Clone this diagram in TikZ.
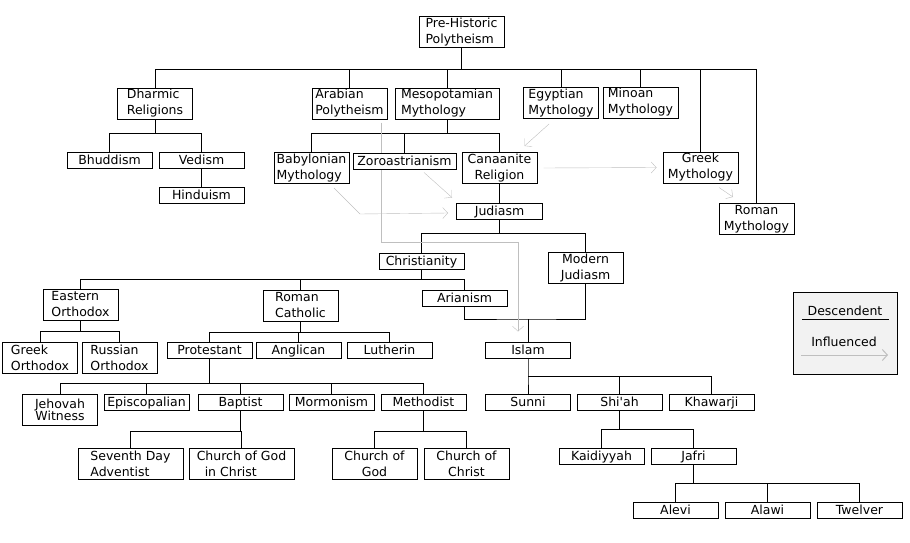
\documentclass[tikz,border=0pt]{standalone}
\usepackage{fontspec}
\newfontfamily\treefont{DejaVu Sans}
\usepackage{tikz}
\usetikzlibrary{arrows.meta}
\usetikzlibrary{backgrounds}

\begin{document}
\begin{tikzpicture}[
  x=1pt, y=-1pt, line width=1pt,
  every node/.style={draw,fill=white,inner sep=0pt,minimum width=85pt,minimum height=16pt,
    text height=11pt,text depth=2.5pt,
    align=center,font=\treefont\fontsize{12.5}{16}\selectfont},
  tall/.style={minimum width=75pt,minimum height=31pt,text height=,text depth=},
  infl/.style={gray!50,-{Straight Barb[length=5pt,width=11pt]}}
]
  \useasboundingbox (0,0) rectangle (910,543);

  % top level
  \node[tall,minimum width=85pt,align=left] (pre) at (461.5,32.5) {Pre-Historic\\Polytheism};
  \node[tall,align=left] (dharmic) at (155,103.5) {Dharmic\\Religions};
  \node[tall,align=left] (arab)    at (349.5,103.5) {Arabian\\Polytheism};
  \node[tall,minimum width=104pt,align=left] (meso) at (447,103.5) {Mesopotamian\\Mythology};
  \node[tall,align=left] (egypt)   at (561,103) {Egyptian\\Mythology};
  \node[tall,align=left] (minoan)  at (640.5,102.5) {Minoan\\Mythology};
  \node[tall] (greekm) at (700.5,167.5) {Greek\\Mythology};
  \node[tall] (romanm) at (756.5,219) {Roman\\Mythology};

  \node (bud) at (109.5,160.5) {Bhuddism};
  \node (ved) at (201.5,160.5) {Vedism};
  \node (hin) at (201.5,195) {Hinduism};

  \node[tall,align=left] (baby) at (311.5,168) {Babylonian\\Mythology};
  \node[minimum width=103pt] (zoro) at (404.5,161) {Zoroastrianism};
  \node[tall] (cana) at (499.5,168) {Canaanite\\Religion};
  \node[minimum width=86pt] (jud) at (499.5,211) {Judiasm};

  \node (christ) at (421.5,261) {Christianity};
  \node[tall] (modjud) at (585.5,267.5) {Modern\\Judiasm};
  \node (arian) at (464.5,298.5) {Arianism};
  \node (islam) at (528,350) {Islam};

  % christian branches
  \node[tall,align=left] (eorth) at (80.5,304.5) {Eastern\\Orthodox};
  \node[tall,align=left] (rcath) at (300.5,305.5) {Roman\\Catholic};
  \node[tall,align=left] (gorth) at (40,357.5) {Greek\\Orthodox};
  \node[tall,align=left] (rorth) at (119.5,357.5) {Russian\\Orthodox};
  \node (prot) at (209.5,350) {Protestant};
  \node (angl) at (298.5,350) {Anglican};
  \node (luth) at (389.5,350) {Lutherin};
  \node[tall,font=\treefont\fontsize{12.5}{12}\selectfont] (jeh) at (60,409.5) {Jehovah\\Witness};
  \node (epis) at (146.5,402) {Episcopalian};
  \node (bapt) at (240.5,402) {Baptist};
  \node (morm) at (331.5,402) {Mormonism};
  \node (meth) at (423.5,402) {Methodist};
  \node[tall,minimum width=105pt,align=left] (sda) at (130.5,463.5) {Seventh Day\\Adventist};
  \node[tall,minimum width=105pt,align=left] (cogic) at (241.5,463.5) {Church of God\\\hspace{8pt}in Christ};
  \node[tall,minimum width=85pt] (cog) at (374.5,463.5) {Church of\\God};
  \node[tall,minimum width=85pt] (coc) at (466.5,463.5) {Church of\\Christ};

  % islamic branches
  \node (sunni) at (528,402) {Sunni};
  \node (shia)  at (619.5,402) {Shi'ah};
  \node (khaw)  at (711.5,402) {Khawarji};
  \node (kaid)  at (601.5,456) {Kaidiyyah};
  \node (jafri) at (693.5,456) {Jafri};
  \node (alevi) at (675.5,510) {Alevi};
  \node (alawi) at (767.5,510) {Alawi};
  \node (twelv) at (859.5,510) {Twelver};

  % bus points
  \coordinate (b1)  at (461.5,69);
  \coordinate (b2)  at (155,133);
  \coordinate (b3)  at (447,133);
  \coordinate (b4)  at (499.5,233);
  \coordinate (b5)  at (421.5,279);
  \coordinate (b6)  at (80.5,331);
  \coordinate (b7)  at (300.5,332);
  \coordinate (b8)  at (209.5,383);
  \coordinate (b9)  at (240.5,431);
  \coordinate (b10) at (423.5,431);
  \coordinate (b11) at (528,319);
  \coordinate (b12) at (528,376);
  \coordinate (b13) at (619.5,429);
  \coordinate (b14) at (693.5,483);

  \begin{scope}[on background layer]
    % descent
    \draw (pre) -- (b1) -| (dharmic) (b1) -| (arab) (b1) -| (meso) (b1) -| (egypt)
          (b1) -| (minoan) (b1) -| (greekm) (b1) -| (romanm);
    \draw (dharmic) -- (b2) -| (bud) (b2) -| (ved);
    \draw (ved) -- (hin);
    \draw (meso) -- (b3) -| (baby) (b3) -| (zoro) (b3) -| (cana);
    \draw (cana) -- (jud);
    \draw (jud) -- (b4) -| (christ) (b4) -| (modjud);
    \draw (christ) -- (b5) -| (eorth) (b5) -| (rcath) (b5) -| (arian);
    \draw (eorth) -- (b6) -| (gorth) (b6) -| (rorth);
    \draw (rcath) -- (b7) -| (prot) (b7) -| (angl) (b7) -| (luth);
    \draw (prot) -- (b8) -| (jeh) (b8) -| (epis) (b8) -| (bapt) (b8) -| (morm) (b8) -| (meth);
    \draw (bapt) -- (b9) -| (sda) (b9) -| (cogic);
    \draw (meth) -- (b10) -| (cog) (b10) -| (coc);
    \draw (arian) |- (b11) -| (modjud) (b11) -- (islam);
    \draw (islam) -- (b12) -| (sunni) (b12) -| (shia) (b12) -| (khaw);
    \draw (shia) -- (b13) -| (kaid) (b13) -| (jafri);
    \draw (jafri) -- (b14) -| (alevi) (b14) -| (alawi) (b14) -| (twelv);

    % influence
    \draw[infl] ([xshift=31.5pt,yshift=-3pt]arab.south) -- ++(0,120) -| ([xshift=-10pt,yshift=10pt]islam.north);
    \draw[infl] ([xshift=22.5pt,yshift=-4pt]baby.south) -- ++(26,26) -- ([xshift=-8pt,yshift=-2pt]jud.west);
    \draw[infl] ([xshift=19.5pt,yshift=-3pt]zoro.south) -- ([xshift=-4pt,yshift=5pt]jud.north west);
    \draw[infl] ([xshift=-12pt,yshift=-5pt]egypt.south) -- ([xshift=-13pt,yshift=6pt]cana.north east);
    \draw[infl] ([xshift=6pt]cana.east) -- ([xshift=-6pt]greekm.west);
    \draw[infl] ([xshift=18.5pt,yshift=-4pt]greekm.south) -- ([xshift=-23.5pt,yshift=6pt]romanm.north);
  \end{scope}

  % legend
  \node[minimum width=104pt,minimum height=82pt,text height=,text depth=,fill=black!5] (legend) at (845,333) {};
  \node[draw=none,fill=none] (desc)  at (845,311) {Descendent};
  \node[draw=none,fill=none] (influ) at (844,342.5) {Influenced};
  \coordinate (d1) at (802,319);
  \coordinate (d2) at (889,319);
  \coordinate (i1) at (801,355);
  \coordinate (i2) at (888,355);
  \draw (d1) -- (d2);
  \draw[infl] (i1) -- (i2);
\end{tikzpicture}
\end{document}
